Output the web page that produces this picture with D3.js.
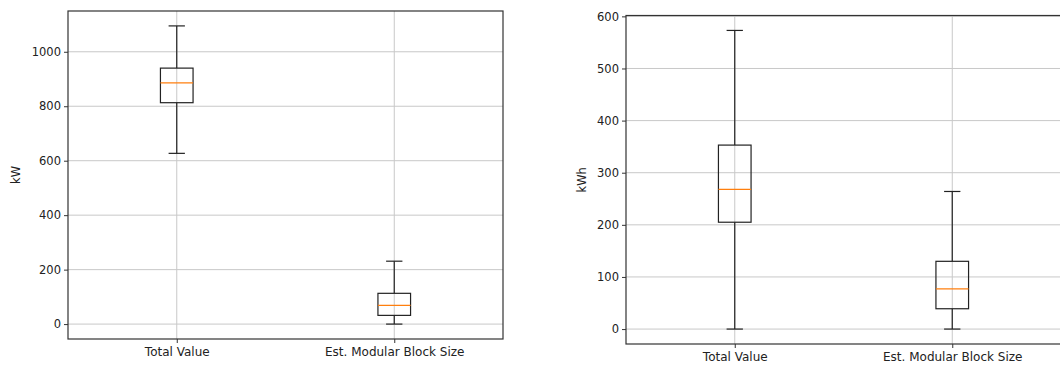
<!DOCTYPE html>
<html><head><meta charset="utf-8">
<script src="https://cdn.jsdelivr.net/npm/d3@7"></script>
<style>body{margin:0;background:#fff}svg{display:block}text{font-family:"DejaVu Sans",sans-serif;fill:#222}</style>
</head><body><svg id="c" width="1060" height="365"></svg>
<script>
const categories = ["Total Value", "Est. Modular Block Size"];
// box stats: [lowerWhisker, q1, median, q3, upperWhisker]
const powerStats = [[627, 813, 886, 940, 1095], [0, 32, 69, 113, 231]];
const energyStats = [[0, 205, 268, 353, 573], [0, 39, 77, 130, 264]];
const powerTicks = [0, 200, 400, 600, 800, 1000];
const energyTicks = [0, 100, 200, 300, 400, 500, 600];
const powerLabel = "kW";
const energyLabel = "kWh";

const svg = d3.select("#c");

function panel(opts) {
  const {left, top, width, height, stats, ticks, label, labelX} = opts;
  const g = svg.append("g").attr("transform", `translate(${left},${top})`);
  const allVals = stats.flat();
  const lo = d3.min(allVals), hi = d3.max(allVals);
  const m = (hi - lo) * 0.05;
  const y = d3.scaleLinear().domain([lo - m, hi + m]).range([height, 0]);
  const x = d3.scaleLinear().domain([0.5, 2.5]).range([0, width]);
  const pos = categories.map((c, i) => i + 1);

  // grid
  g.selectAll(".hg").data(ticks).join("line")
    .attr("x1", 0).attr("x2", width)
    .attr("y1", d => y(d)).attr("y2", d => y(d))
    .attr("stroke", "#c8c8c8").attr("stroke-width", 1);
  g.selectAll(".vg").data(pos).join("line")
    .attr("x1", d => x(d)).attr("x2", d => x(d))
    .attr("y1", 0).attr("y2", height)
    .attr("stroke", "#c8c8c8").attr("stroke-width", 1);

  const bw = x(1.075) - x(0.925);
  const cw = x(1.0375) - x(0.9625);
  const boxes = g.selectAll(".box").data(stats).join("g");
  boxes.each(function(s, i) {
    const gb = d3.select(this);
    const cx = x(pos[i]);
    const [w0, q1, med, q3, w1] = s;
    gb.append("line").attr("x1", cx).attr("x2", cx).attr("y1", y(w0)).attr("y2", y(q1)).attr("stroke", "#222").attr("stroke-width", 1.2);
    gb.append("line").attr("x1", cx).attr("x2", cx).attr("y1", y(q3)).attr("y2", y(w1)).attr("stroke", "#222").attr("stroke-width", 1.2);
    gb.append("line").attr("x1", cx - cw / 2).attr("x2", cx + cw / 2).attr("y1", y(w0)).attr("y2", y(w0)).attr("stroke", "#222").attr("stroke-width", 1.2);
    gb.append("line").attr("x1", cx - cw / 2).attr("x2", cx + cw / 2).attr("y1", y(w1)).attr("y2", y(w1)).attr("stroke", "#222").attr("stroke-width", 1.2);
    gb.append("rect").attr("x", cx - bw / 2).attr("width", bw).attr("y", y(q3)).attr("height", y(q1) - y(q3))
      .attr("fill", "none").attr("stroke", "#222").attr("stroke-width", 1.2);
    gb.append("line").attr("x1", cx - bw / 2).attr("x2", cx + bw / 2).attr("y1", y(med)).attr("y2", y(med)).attr("stroke", "#ff7f0e").attr("stroke-width", 1.2);
  });

  // axes
  const ya = g.append("g").call(d3.axisLeft(y).tickValues(ticks).tickFormat(d3.format("d")).tickSize(4).tickPadding(3));
  ya.select(".domain").remove();
  ya.selectAll("line").attr("stroke", "#333");
  ya.selectAll("text").attr("font-size", 11.5).attr("fill", "#222");
  const xa = g.append("g").attr("transform", `translate(0,${height})`)
    .call(d3.axisBottom(x).tickValues(pos).tickFormat((d) => categories[d - 1]).tickSize(4).tickPadding(4));
  xa.select(".domain").remove();
  xa.selectAll("line").attr("stroke", "#333");
  xa.selectAll("text").attr("font-size", 12).attr("fill", "#222");

  g.append("rect").attr("x", 0).attr("y", 0).attr("width", width).attr("height", height)
    .attr("fill", "none").attr("stroke", "#333").attr("stroke-width", 1.2);

  g.append("text").attr("transform", `translate(${labelX},${height / 2}) rotate(-90)`)
    .attr("text-anchor", "middle").attr("font-size", 11.5).text(label);
}

panel({left: 68, top: 11, width: 435, height: 328, stats: powerStats, ticks: powerTicks, label: powerLabel, labelX: -48});
panel({left: 626, top: 15.5, width: 435, height: 328.5, stats: energyStats, ticks: energyTicks, label: energyLabel, labelX: -40});
</script></body></html>
